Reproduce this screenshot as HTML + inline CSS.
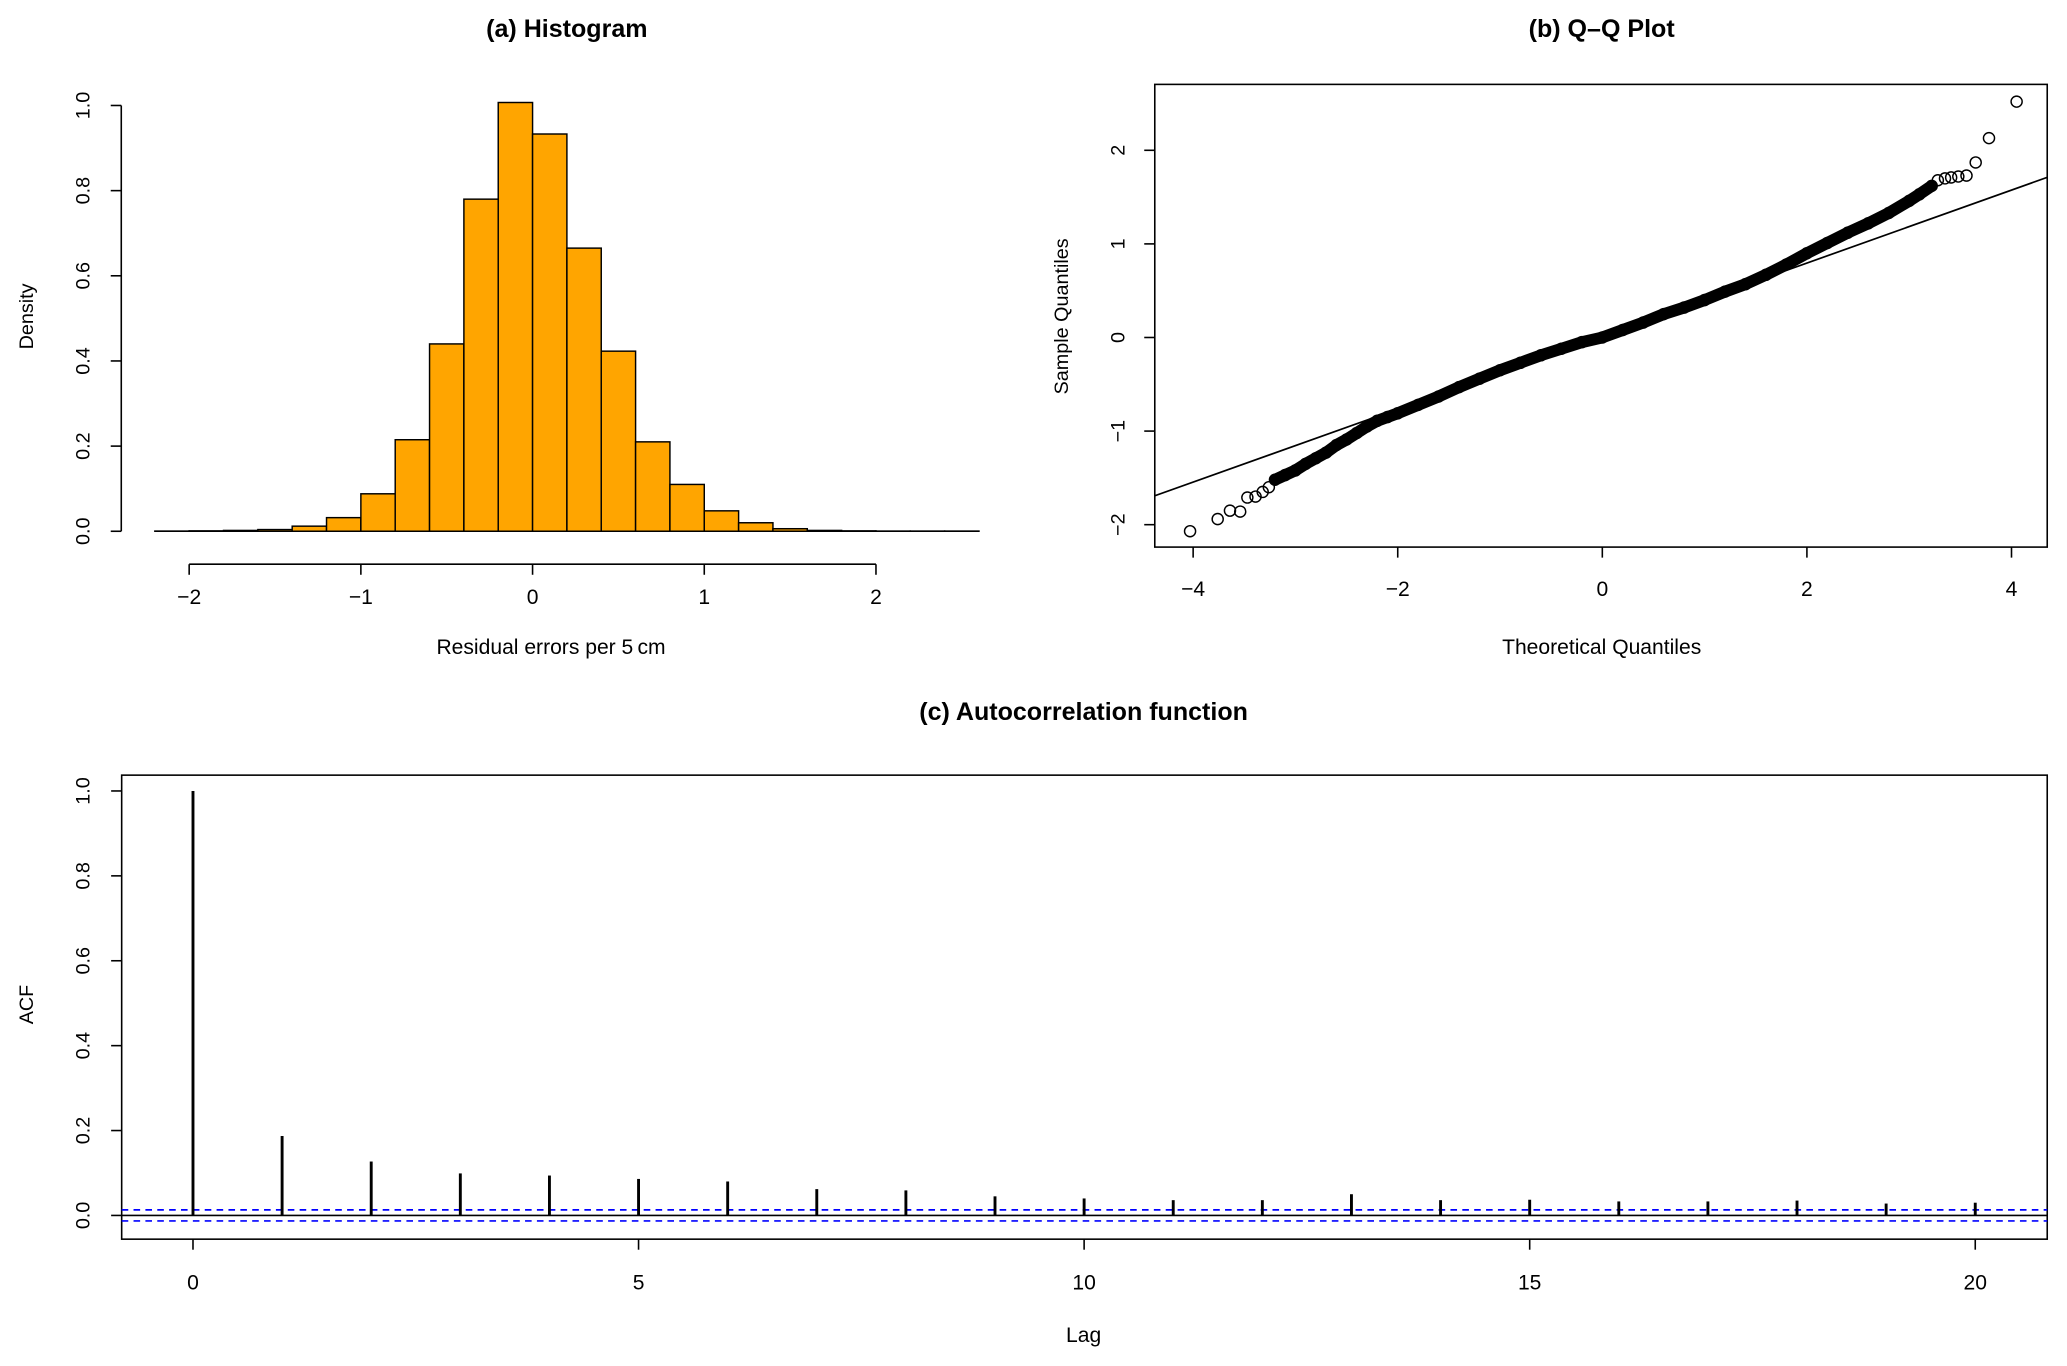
<!DOCTYPE html>
<html><head><meta charset="utf-8"><style>
html,body{margin:0;padding:0;background:#fff}
svg{display:block}
text{font-family:"Liberation Sans",sans-serif;fill:#000}
.t{font-family:"Liberation Sans Narrow","Liberation Sans",sans-serif;font-weight:bold;font-size:19px}
.n{font-family:"Liberation Sans Narrow","Liberation Sans",sans-serif;font-size:16px}
.tk{font-size:15px}
</style></head><body>
<svg id="fig" width="2067" height="1366" viewBox="0 0 1568 1036.2" xmlns="http://www.w3.org/2000/svg">
<g id="hist"></g>
<g id="qq"></g>
<g id="acf"></g>
</svg>
<script>
// Histogram data
const histBreakStart = -2.2;
const histBinWidth = 0.2;
const histDensity = [0.0005,0.001,0.002,0.004,0.012,0.032,0.088,0.215,0.44,0.78,1.007,0.933,0.665,0.423,0.21,0.11,0.048,0.02,0.006,0.002,0.001,0.0005,0.0005,0.0005];
const histXTicks = [-2,-1,0,1,2];
const histXTickLabels = ["\u22122","\u22121","0","1","2"];
const histYTicks = [0,0.2,0.4,0.6,0.8,1.0];
const histYTickLabels = ["0.0","0.2","0.4","0.6","0.8","1.0"];

// QQ data
const qqTheoretical = [-4.03,-3.76,-3.64,-3.54,-3.47,-3.39,-3.32,-3.26,-3.2,-3.1,-3.0,-2.9,-2.8,-2.7,-2.6,-2.5,-2.4,-2.3,-2.2,-2.1,-2.0,-1.8,-1.6,-1.4,-1.2,-1.0,-0.8,-0.6,-0.4,-0.2,0,0.2,0.4,0.6,0.8,1.0,1.2,1.4,1.6,1.8,2.0,2.2,2.4,2.6,2.8,3.0,3.1,3.22,3.28,3.35,3.41,3.48,3.56,3.65,3.78,4.05];
const qqSample = [-2.07,-1.94,-1.85,-1.86,-1.71,-1.70,-1.65,-1.60,-1.52,-1.47,-1.42,-1.35,-1.29,-1.23,-1.15,-1.09,-1.02,-0.95,-0.89,-0.85,-0.81,-0.72,-0.63,-0.53,-0.44,-0.35,-0.27,-0.19,-0.12,-0.05,0.0,0.08,0.16,0.25,0.32,0.40,0.49,0.57,0.67,0.78,0.90,1.01,1.12,1.22,1.33,1.46,1.53,1.62,1.68,1.70,1.71,1.72,1.73,1.87,2.13,2.52];
const qqLineIntercept = 0.015;
const qqLineSlope = 0.39;
const qqXTicks = [-4,-2,0,2,4];
const qqXTickLabels = ["\u22124","\u22122","0","2","4"];
const qqYTicks = [-2,-1,0,1,2];
const qqYTickLabels = ["\u22122","\u22121","0","1","2"];

// ACF data
const acfLags = [0,1,2,3,4,5,6,7,8,9,10,11,12,13,14,15,16,17,18,19,20];
const acfValues = [1.0,0.187,0.127,0.099,0.094,0.086,0.080,0.062,0.059,0.045,0.040,0.036,0.036,0.050,0.036,0.037,0.033,0.033,0.035,0.028,0.030];
const acfConfLimit = 0.013;
const acfXTicks = [0,5,10,15,20];
const acfXTickLabels = ["0","5","10","15","20"];
const acfYTicks = [0,0.2,0.4,0.6,0.8,1.0];
const acfYTickLabels = ["0.0","0.2","0.4","0.6","0.8","1.0"];

const NS="http://www.w3.org/2000/svg";
function mk(parent,tag,attrs,txt){const e=document.createElementNS(NS,tag);for(const k in attrs)e.setAttribute(k,attrs[k]);if(txt!==undefined)e.textContent=txt;parent.appendChild(e);return e;}
function line(p,x1,y1,x2,y2,extra){return mk(p,'line',Object.assign({x1,y1,x2,y2,stroke:'#000','stroke-width':1.2},extra||{}));}

// ---- Histogram ----
(function(){
const g=document.getElementById('hist');
const sx=v=>404+130.25*v, sy=v=>403-323*v;
let t=mk(g,'text',{x:430,y:28,'text-anchor':'middle',class:'t'},'(a) Histogram');


histDensity.forEach((d,i)=>{
  const x0=histBreakStart+i*histBinWidth;
  const r=mk(g,'rect',{x:sx(x0),y:sy(d),width:sx(x0+histBinWidth)-sx(x0),height:sy(0)-sy(d),fill:'#FFA500',stroke:'#000','stroke-width':1.1});
  
  
});
line(g,sx(histBreakStart),sy(0),sx(histBreakStart+histDensity.length*histBinWidth),sy(0));
line(g,92,sy(0),92,sy(1));
histYTicks.forEach((v,i)=>{line(g,84,sy(v),92,sy(v));
  const l=mk(g,'text',{x:68,y:sy(v),'text-anchor':'middle',class:'tk',transform:`rotate(-90 68 ${sy(v)})`},histYTickLabels[i]);
  
  });
line(g,sx(histXTicks[0]),428,sx(histXTicks[histXTicks.length-1]),428);
histXTicks.forEach((v,i)=>{line(g,sx(v),428,sx(v),436);
  const l=mk(g,'text',{x:sx(v),y:458,'text-anchor':'middle',class:'n'},histXTickLabels[i]);
  
  });
t=mk(g,'text',{x:418,y:496,'text-anchor':'middle',class:'n'},'Residual errors per 5\u2009cm');


t=mk(g,'text',{x:25,y:240,'text-anchor':'middle',class:'tk',transform:'rotate(-90 25 240)'},'Density');


})();

// ---- QQ ----
(function(){
const g=document.getElementById('qq');
const sx=v=>1215.5+77.6*v, sy=v=>256-71*v;
const L=876,R=1553,T=64,B=415;
let t=mk(g,'text',{x:1215,y:28,'text-anchor':'middle',class:'t'},'(b) Q\u2013Q Plot');


const clip=mk(g,'clipPath',{id:'qqclip'});mk(clip,'rect',{x:L,y:T,width:R-L,height:B-T});
const gg=mk(g,'g',{'clip-path':'url(#qqclip)'});
const dense=qqTheoretical.map((x,i)=>[x,qqSample[i]]).filter(p=>p[0]>=-3.2&&p[0]<=3.22);
const band=mk(gg,'polyline',{points:dense.map(p=>sx(p[0])+','+sy(p[1])).join(' '),fill:'none',stroke:'#000','stroke-width':9,'stroke-linejoin':'round','stroke-linecap':'round'});


qqTheoretical.forEach((x,i)=>{
  const c=mk(gg,'circle',{cx:sx(x),cy:sy(qqSample[i]),r:4.2,fill:'none',stroke:'#000','stroke-width':1.1});
  
  
});
const xa=-4.5,xb=4.5;
const rl=line(gg,sx(xa),sy(qqLineIntercept+qqLineSlope*xa),sx(xb),sy(qqLineIntercept+qqLineSlope*xb),{'stroke-width':1.3});


const box=mk(g,'rect',{x:L,y:T,width:R-L,height:B-T,fill:'none',stroke:'#000','stroke-width':1.2});


qqXTicks.forEach((v,i)=>{line(g,sx(v),B,sx(v),B+8);
  const l=mk(g,'text',{x:sx(v),y:452,'text-anchor':'middle',class:'n'},qqXTickLabels[i]);
  
  });
qqYTicks.forEach((v,i)=>{line(g,L-8,sy(v),L,sy(v));
  const l=mk(g,'text',{x:853,y:sy(v),'text-anchor':'middle',class:'tk',transform:`rotate(-90 853 ${sy(v)})`},qqYTickLabels[i]);
  
  });
t=mk(g,'text',{x:1215,y:496,'text-anchor':'middle',class:'n'},'Theoretical Quantiles');


t=mk(g,'text',{x:810,y:240,'text-anchor':'middle',class:'tk',transform:'rotate(-90 810 240)'},'Sample Quantiles');


})();

// ---- ACF ----
(function(){
const g=document.getElementById('acf');
const sx=v=>146.4+67.6*v, sy=v=>922-322*v;
const L=92.3,R=1553,T=588,B=940;
let t=mk(g,'text',{x:822,y:546,'text-anchor':'middle',class:'t'},'(c) Autocorrelation function');


const box=mk(g,'rect',{x:L,y:T,width:R-L,height:B-T,fill:'none',stroke:'#000','stroke-width':1.2});


line(g,L,sy(0),R,sy(0),{'stroke-width':1.2});
[acfConfLimit,-acfConfLimit].forEach(c=>{
  const d=line(g,L,sy(c),R,sy(c),{stroke:'#0000ff','stroke-width':1.3,'stroke-dasharray':'5 4'});
  
  
});
acfLags.forEach((lag,i)=>{
  const s=line(g,sx(lag),sy(0),sx(lag),sy(acfValues[i]),{'stroke-width':2.2});
  
  
});
acfXTicks.forEach((v,i)=>{line(g,sx(v),B,sx(v),B+8);
  const l=mk(g,'text',{x:sx(v),y:978,'text-anchor':'middle',class:'n'},acfXTickLabels[i]);
  
  });
acfYTicks.forEach((v,i)=>{line(g,L-8,sy(v),L,sy(v));
  const l=mk(g,'text',{x:68,y:sy(v),'text-anchor':'middle',class:'tk',transform:`rotate(-90 68 ${sy(v)})`},acfYTickLabels[i]);
  
  });
t=mk(g,'text',{x:822,y:1018,'text-anchor':'middle',class:'n'},'Lag');


t=mk(g,'text',{x:25,y:762,'text-anchor':'middle',class:'tk',transform:'rotate(-90 25 762)'},'ACF');


})();
</script>
</body></html>
